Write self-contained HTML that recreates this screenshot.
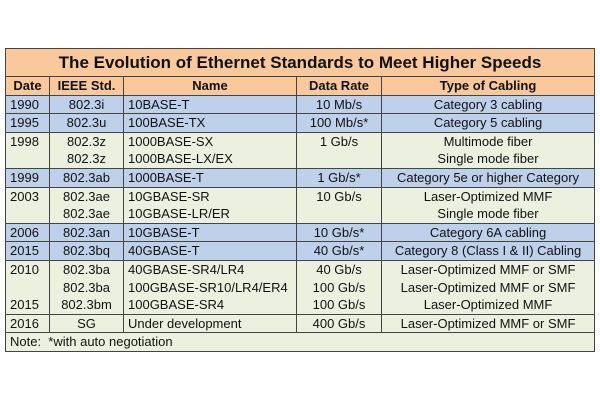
<!DOCTYPE html>
<html><head><meta charset="utf-8"><style>
body{margin:0;width:600px;height:400px;background:#fff;overflow:hidden;font-family:"Liberation Sans",sans-serif;}
table{position:absolute;left:5px;top:48px;width:589px;border-collapse:collapse;table-layout:fixed;font-size:13px;color:#111;}
td{border:1px solid #444;padding:0 4px;line-height:17.6px;vertical-align:top;white-space:nowrap;overflow:hidden;}
.t td{background:#f9c89b;font-weight:bold;font-size:17px;text-align:center;height:27px;line-height:27px;}
.h td{background:#f9c89b;font-weight:bold;text-align:center;}
.b td{background:#bed0ea;}
.g td{background:#ecf1df;}
.c{text-align:center;}
</style></head><body>
<table>
<colgroup><col style="width:44px"><col style="width:74px"><col style="width:173px"><col style="width:85px"><col style="width:213px"></colgroup>
<tr class="t"><td colspan="5">The Evolution of Ethernet Standards to Meet Higher Speeds</td></tr>
<tr class="h"><td>Date</td><td>IEEE Std.</td><td>Name</td><td>Data Rate</td><td>Type of Cabling</td></tr>
<tr class="b"><td>1990</td><td class="c">802.3i</td><td>10BASE-T</td><td class="c">10 Mb/s</td><td class="c">Category 3 cabling</td></tr>
<tr class="b"><td>1995</td><td class="c">802.3u</td><td>100BASE-TX</td><td class="c">100 Mb/s*</td><td class="c">Category 5 cabling</td></tr>
<tr class="g"><td>1998</td><td class="c">802.3z<br>802.3z</td><td>1000BASE-SX<br>1000BASE-LX/EX</td><td class="c">1 Gb/s</td><td class="c">Multimode fiber<br>Single mode fiber</td></tr>
<tr class="b"><td>1999</td><td class="c">802.3ab</td><td>1000BASE-T</td><td class="c">1 Gb/s*</td><td class="c">Category 5e or higher Category</td></tr>
<tr class="g"><td>2003</td><td class="c">802.3ae<br>802.3ae</td><td>10GBASE-SR<br>10GBASE-LR/ER</td><td class="c">10 Gb/s</td><td class="c">Laser-Optimized MMF<br>Single mode fiber</td></tr>
<tr class="b"><td>2006</td><td class="c">802.3an</td><td>10GBASE-T</td><td class="c">10 Gb/s*</td><td class="c">Category 6A cabling</td></tr>
<tr class="b"><td>2015</td><td class="c">802.3bq</td><td>40GBASE-T</td><td class="c">40 Gb/s*</td><td class="c">Category 8 (Class I &amp; II) Cabling</td></tr>
<tr class="g"><td>2010<br><br>2015</td><td class="c">802.3ba<br>802.3ba<br>802.3bm</td><td>40GBASE-SR4/LR4<br>100GBASE-SR10/LR4/ER4<br>100GBASE-SR4</td><td class="c">40 Gb/s<br>100 Gb/s<br>100 Gb/s</td><td class="c">Laser-Optimized MMF or SMF<br>Laser-Optimized MMF or SMF<br>Laser-Optimized MMF</td></tr>
<tr class="g"><td>2016</td><td class="c">SG</td><td>Under development</td><td class="c">400 Gb/s</td><td class="c">Laser-Optimized MMF or SMF</td></tr>
<tr class="g"><td colspan="5">Note:&nbsp; *with auto negotiation</td></tr>
</table>
</body></html>
